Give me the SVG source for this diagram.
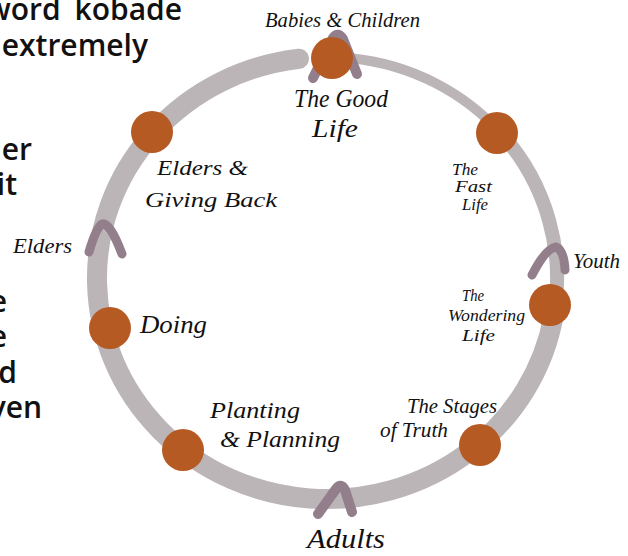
<svg xmlns="http://www.w3.org/2000/svg" width="628" height="556" viewBox="0 0 628 556">
<style>
.body{font-family:"Open Sans","Noto Sans",sans-serif;font-weight:600;font-size:30px;fill:#111;text-anchor:end}
.hand{font-family:"Liberation Serif",serif;font-style:italic;fill:#111}
.ring{fill:none;stroke:#BCB5B7;stroke-linecap:round}
.chev{fill:none;stroke:#937F8B;stroke-linecap:round;stroke-linejoin:round}
.dot{fill:#B65A24}
</style>
<rect width="628" height="556" fill="#fff"/>
<g id="bodytext">
<text class="body" x="182" y="20" word-spacing="6">word kobade</text>
<text class="body" x="148" y="56">extremely</text>
<text class="body" x="32" y="160">ler</text>
<text class="body" x="17" y="195">it</text>
<text class="body" x="7" y="312">e</text>
<text class="body" x="7" y="347">e</text>
<text class="body" x="17" y="383">d</text>
<text class="body" x="42" y="418">ven</text>
</g>
<g id="connectors">
<path class="ring" stroke-width="20" d="M553.5 316.4 A230 221 0 1 1 299 58.7"/>
<path class="ring" stroke-width="10" d="M351 58.2 A230 221 0 0 1 503.2 135.9"/>
<path class="ring" stroke-width="14" d="M489.6 121.7 A230 221 0 0 1 549.2 335.2"/>
<path class="chev" stroke-width="10" d="M313 78 L333 38 Q338 31 343 39 L357 74"/>
<path class="chev" stroke-width="9" d="M89 252 Q96 228 102 224 Q110 222 122 254"/>
<path class="chev" stroke-width="9" d="M532 275 Q546 248 556 247 Q564 250 565 270"/>
<path class="chev" stroke-width="10" d="M318 514 L336 489 Q341 482 345 490 L352 512"/>
</g>
<g id="n-babies"><circle class="dot" cx="332" cy="58" r="21"/>
<text class="hand" x="265" y="27" font-size="20" textLength="155" lengthAdjust="spacingAndGlyphs">Babies &amp; Children</text>
<text class="hand" x="294" y="107" font-size="25" textLength="94" lengthAdjust="spacingAndGlyphs">The Good</text>
<text class="hand" x="312" y="137" font-size="25" textLength="46" lengthAdjust="spacingAndGlyphs">Life</text></g>
<g id="n-fast"><circle class="dot" cx="497" cy="133" r="21"/>
<text class="hand" x="452" y="175" font-size="16" textLength="26" lengthAdjust="spacingAndGlyphs">The</text>
<text class="hand" x="455" y="192" font-size="16" textLength="37" lengthAdjust="spacingAndGlyphs">Fast</text>
<text class="hand" x="462" y="210" font-size="16" textLength="26" lengthAdjust="spacingAndGlyphs">Life</text></g>
<g id="n-youth"><text class="hand" x="573" y="268" font-size="22" textLength="47" lengthAdjust="spacingAndGlyphs">Youth</text></g>
<g id="n-wondering"><circle class="dot" cx="550" cy="305" r="21"/>
<text class="hand" x="462" y="301" font-size="16" textLength="22" lengthAdjust="spacingAndGlyphs">The</text>
<text class="hand" x="448" y="321" font-size="16" textLength="77" lengthAdjust="spacingAndGlyphs">Wondering</text>
<text class="hand" x="462" y="341" font-size="16" textLength="33" lengthAdjust="spacingAndGlyphs">Life</text></g>
<g id="n-truth"><circle class="dot" cx="480" cy="445" r="21"/>
<text class="hand" x="407" y="413" font-size="20" textLength="90" lengthAdjust="spacingAndGlyphs">The Stages</text>
<text class="hand" x="380" y="437" font-size="20" textLength="68" lengthAdjust="spacingAndGlyphs">of Truth</text></g>
<g id="n-adults"><text class="hand" x="307" y="548" font-size="27" textLength="78" lengthAdjust="spacingAndGlyphs">Adults</text></g>
<g id="n-planting"><circle class="dot" cx="183" cy="450" r="21"/>
<text class="hand" x="210" y="418" font-size="23" textLength="90" lengthAdjust="spacingAndGlyphs">Planting</text>
<text class="hand" x="220" y="447" font-size="23" textLength="120" lengthAdjust="spacingAndGlyphs">&amp; Planning</text></g>
<g id="n-doing"><circle class="dot" cx="110" cy="328" r="21"/>
<text class="hand" x="140" y="333" font-size="25" textLength="67" lengthAdjust="spacingAndGlyphs">Doing</text></g>
<g id="n-elders"><text class="hand" x="13" y="253" font-size="21" textLength="59" lengthAdjust="spacingAndGlyphs">Elders</text></g>
<g id="n-giving"><circle class="dot" cx="152" cy="132" r="21"/>
<text class="hand" x="157" y="175" font-size="22" textLength="91" lengthAdjust="spacingAndGlyphs">Elders &amp;</text>
<text class="hand" x="145" y="207" font-size="22" textLength="132" lengthAdjust="spacingAndGlyphs">Giving Back</text></g>
</svg>
